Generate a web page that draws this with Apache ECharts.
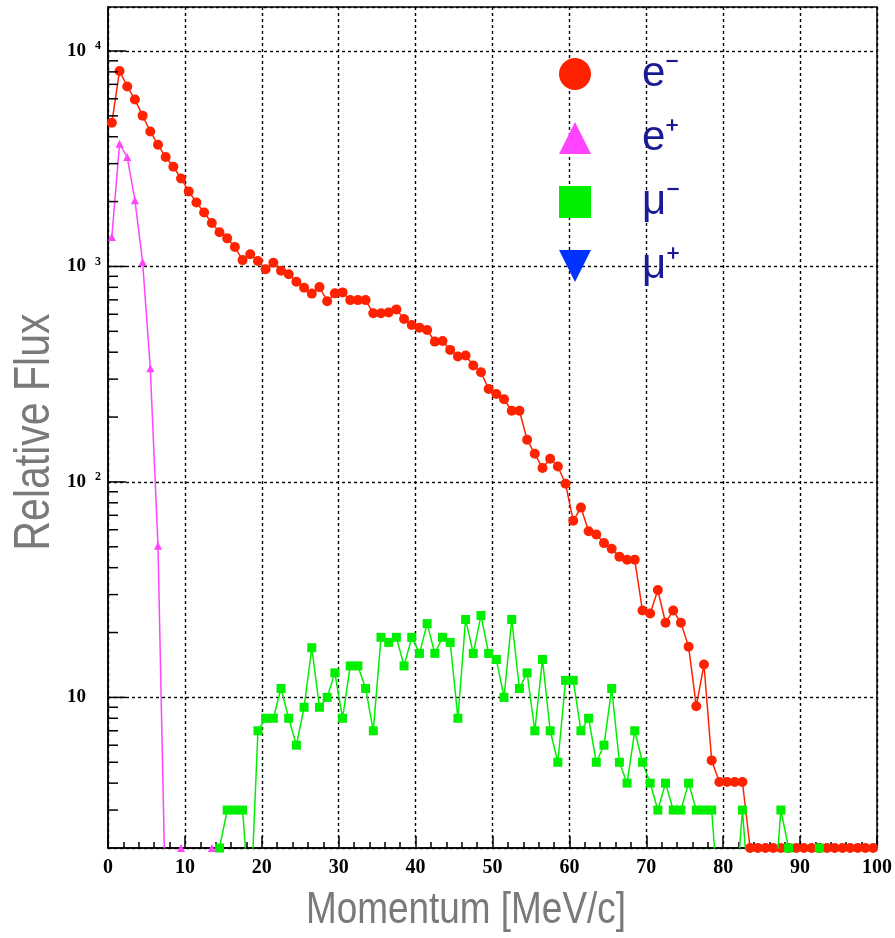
<!DOCTYPE html>
<html>
<head>
<meta charset="utf-8">
<script src="https://cdn.jsdelivr.net/npm/echarts@6/dist/echarts.min.js"></script>
<style>
  html, body { margin: 0; padding: 0; background: #fff; }
  #main { width: 895px; height: 938px; }
</style>
</head>
<body>
<div id="main"></div>
<script>
// bin centres [MeV/c]
var momentum = [
  0.5, 1.5, 2.5, 3.5, 4.5, 5.5, 6.5, 7.5, 8.5, 9.5,
  10.5, 11.5, 12.5, 13.5, 14.5, 15.5, 16.5, 17.5, 18.5, 19.5,
  20.5, 21.5, 22.5, 23.5, 24.5, 25.5, 26.5, 27.5, 28.5, 29.5,
  30.5, 31.5, 32.5, 33.5, 34.5, 35.5, 36.5, 37.5, 38.5, 39.5,
  40.5, 41.5, 42.5, 43.5, 44.5, 45.5, 46.5, 47.5, 48.5, 49.5,
  50.5, 51.5, 52.5, 53.5, 54.5, 55.5, 56.5, 57.5, 58.5, 59.5,
  60.5, 61.5, 62.5, 63.5, 64.5, 65.5, 66.5, 67.5, 68.5, 69.5,
  70.5, 71.5, 72.5, 73.5, 74.5, 75.5, 76.5, 77.5, 78.5, 79.5,
  80.5, 81.5, 82.5, 83.5, 84.5, 85.5, 86.5, 87.5, 88.5, 89.5,
  90.5, 91.5, 92.5, 93.5, 94.5, 95.5, 96.5, 97.5, 98.5, 99.5
];

var electron = [
  4640, 8080, 6840, 5950, 5010, 4230, 3670, 3220, 2900, 2560,
  2230, 1980, 1780, 1590, 1440, 1350, 1230, 1070, 1140, 1060,
  970, 1040, 955, 920, 849, 796, 748, 802, 690, 750,
  758, 698, 698, 698, 606, 606, 612, 632, 570, 535,
  520, 507, 448, 451, 410, 382, 386, 347, 323, 270,
  256, 242, 214, 214, 157, 135, 116, 128, 118, 98,
  66, 76, 59, 57, 52, 49, 45, 43.5, 43.5, 25.3,
  24.5, 31.5, 22.2, 25.3, 22.2, 17.2, 9.1, 14.2, 5.1, 4.05,
  4.05, 4.05, 4.05, 2, 2, 2, 2, 2, 2, 2,
  2, 2, 2, 2, 2, 2, 2, 2, 2, 2
];

var positron = [1370, 3710, 3220, 2030, 1050, 337, 50.6, 1, 1, 2, 1, 1, 1, 2];

var muonMinus = [
  null, null, null, null, null, null, null, null, null, null,
  null, null, null, null, 2, 3, 3, 3, 1, 7,
  8, 8, 11, 8, 6, 9, 17, 9, 10, 13,
  8, 14, 14, 11, 7, 19, 18, 19, 14, 19,
  16, 22, 16, 19, 18, 8, 23, 16, 24, 16,
  15, 10, 23, 11, 13, 7, 15, 7, 5, 12,
  12, 7, 8, 5, 6, 11, 5, 4, 7, 5,
  4, 3, 4, 3, 3, 4, 3, 3, 3, 1,
  1, 1, 3, 1, 1, 1, 1, 3, 2, 1,
  1, 1, 2, 1, 1, 1, 1, 1, 1, 1
];

var muonPlus = [];

var xTicks = [0, 10, 20, 30, 40, 50, 60, 70, 80, 90, 100];
var yMajorTicks = [10, 100, 1000, 10000];
var yMinorTicks = [3, 4, 5, 6, 7, 8, 9, 20, 30, 40, 50, 60, 70, 80, 90,
  200, 300, 400, 500, 600, 700, 800, 900, 2000, 3000, 4000, 5000, 6000, 7000, 8000, 9000];

var seriesNames = ['e-', 'e+', 'mu-', 'mu+'];
var legendLabels = ['e⁻', 'e⁺', 'μ⁻', 'μ⁺'];
var legendIcons = ['circle', 'triangle', 'rect', 'path://M0,0 L2,0 L1,2 Z'];

function pairs(values) {
  var out = [];
  for (var i = 0; i < values.length; i++) {
    out.push([momentum[i], values[i]]);
  }
  return out;
}

// short inward ticks on the left (log) axis, drawn through the axis scale
function tickSeries(values, len) {
  return {
    type: 'custom', silent: true, z: 7,
    data: values.map(function (v) { return [xTicks[0], v]; }),
    renderItem: function (params, api) {
      var p = api.coord([api.value(0), api.value(1)]);
      return {
        type: 'line',
        shape: { x1: p[0], y1: p[1], x2: p[0] + len, y2: p[1] },
        style: { stroke: '#000', lineWidth: 1.5 }
      };
    }
  };
}

var myChart = echarts.init(document.getElementById('main'));

var serif = 'Liberation Serif';
var dotted = { color: '#000', width: 1.4, type: [3, 3] };
var tickStyle = { color: '#000', width: 1.5 };

var option = {
  animation: false,
  backgroundColor: '#fff',
  grid: {
    left: 108, right: 17, top: 7, bottom: 90,
    show: true, borderColor: '#000', borderWidth: 1.5
  },
  legend: {
    data: seriesNames.map(function (n, i) { return { name: n, icon: legendIcons[i] }; }),
    orient: 'vertical',
    left: 554,
    top: 48,
    itemWidth: 32,
    itemHeight: 32,
    itemGap: 22,
    selectedMode: false,
    formatter: function (name) {
      return legendLabels[seriesNames.indexOf(name)];
    },
    textStyle: {
      fontFamily: 'Liberation Sans', fontSize: 42, color: '#1a1a96',
      lineHeight: 32, padding: [0, 0, 0, 46]
    }
  },
  graphic: [
    {
      type: 'text', x: 466, y: 911, scaleX: 0.82,
      style: { text: 'Momentum [MeV/c]', fontFamily: 'Liberation Sans', fontSize: 45, fill: '#7a7a7a', align: 'center', verticalAlign: 'middle' }
    },
    {
      type: 'text', x: 35, y: 432, rotation: Math.PI / 2, scaleX: 0.82,
      style: { text: 'Relative Flux', fontFamily: 'Liberation Sans', fontSize: 50, fill: '#7a7a7a', align: 'center', verticalAlign: 'middle' }
    }
  ],
  xAxis: {
    type: 'value',
    min: xTicks[0],
    max: xTicks[xTicks.length - 1],
    interval: 10,
    axisLine: { lineStyle: tickStyle },
    axisTick: { show: true, inside: true, length: 12, lineStyle: tickStyle },
    minorTick: { show: true, splitNumber: 5, length: 6, lineStyle: tickStyle },
    axisLabel: { fontFamily: serif, fontWeight: 'bold', fontSize: 20, color: '#000', margin: 10, showMinLabel: true, showMaxLabel: true },
    splitLine: { show: true, lineStyle: dotted }
  },
  yAxis: {
    type: 'log',
    logBase: 10,
    min: 2,
    max: 16000,
    axisLine: { show: true, lineStyle: tickStyle },
    axisTick: { show: false },
    axisLabel: {
      margin: 7,
      formatter: function (v) {
        var l = Math.log10(v);
        var e = Math.round(l);
        if (Math.abs(l - e) > 1e-6) return '';
        if (e === 1) return '{b|10}{e| }';
        return '{b|10}{e|' + e + '}';
      },
      rich: {
        b: { fontFamily: serif, fontWeight: 'bold', fontSize: 19, color: '#000', lineHeight: 22 },
        e: { fontFamily: serif, fontWeight: 'bold', fontSize: 12, color: '#000', width: 12, lineHeight: 12, verticalAlign: 'top', padding: [0, 0, 10, 3] }
      }
    },
    splitLine: { show: true, lineStyle: dotted }
  },
  series: [
    {
      name: 'e-', type: 'line', data: pairs(electron),
      symbol: 'circle', symbolSize: 10,
      itemStyle: { color: '#ff2200' }, lineStyle: { color: '#ff2200', width: 1.5 },
      clip: true, z: 3
    },
    {
      name: 'e+', type: 'line', data: pairs(positron),
      symbol: 'triangle', symbolSize: 8,
      itemStyle: { color: '#ff44ff' }, lineStyle: { color: '#ff44ff', width: 1.5 },
      clip: true, z: 4
    },
    {
      name: 'mu-', type: 'line', data: pairs(muonMinus),
      symbol: 'rect', symbolSize: 9,
      itemStyle: { color: '#00ee00' }, lineStyle: { color: '#00ee00', width: 1.5 },
      clip: true, z: 5
    },
    {
      name: 'mu+', type: 'line', data: pairs(muonPlus),
      symbol: legendIcons[3], symbolSize: 9,
      itemStyle: { color: '#0033ff' }, lineStyle: { color: '#0033ff', width: 1.5 },
      clip: true, z: 6
    },
    tickSeries(yMajorTicks, 18),
    tickSeries(yMinorTicks, 10)
  ]
};

myChart.setOption(option);
</script>
</body>
</html>
